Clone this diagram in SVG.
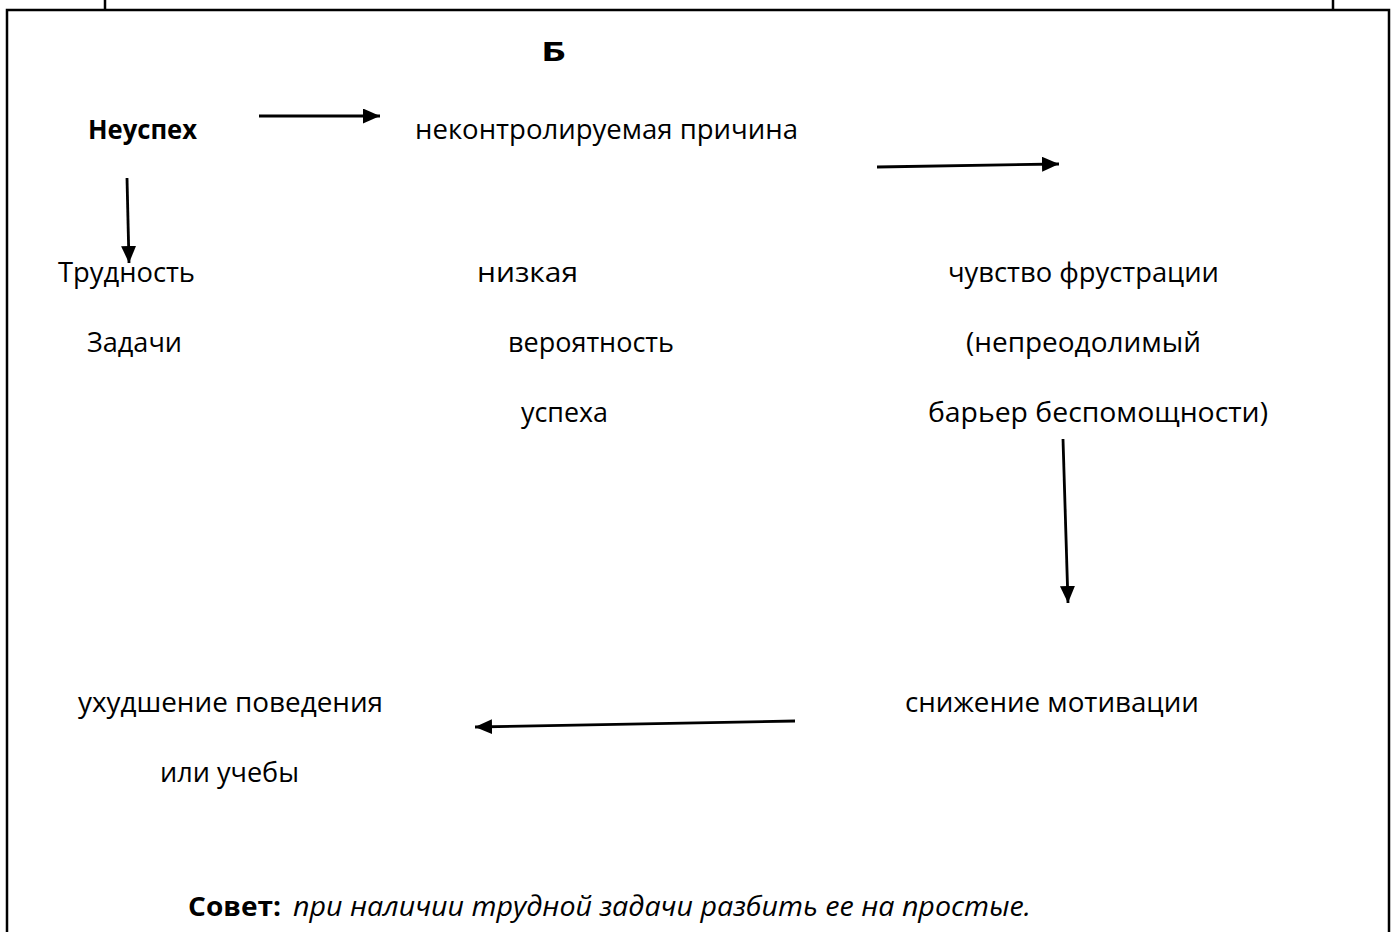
<svg xmlns="http://www.w3.org/2000/svg" width="1397" height="932" viewBox="0 0 1397 932">
<style>
.t{font-family:"Open Sans","Noto Sans","Liberation Sans",sans-serif;font-size:27px;fill:#000}
.b{font-weight:bold}
.i{font-style:italic}
.ln{stroke:#000;stroke-width:2.8;fill:none}
.frame{stroke:#000;stroke-width:2.5;fill:none}
</style>
<defs>
<marker id="ah" markerUnits="userSpaceOnUse" markerWidth="18" markerHeight="16" refX="17" refY="7.5" orient="auto" viewBox="0 0 18 16">
<path d="M0,0 L17,7.5 L0,15 Z" fill="#000"/>
</marker>
</defs>
<rect width="1397" height="932" fill="#fff"/>
<g id="frame">
<path class="frame" d="M7,932 V10 H1389 V932"/>
<line class="frame" x1="105" y1="0" x2="105" y2="10"/>
<line class="frame" x1="1333" y1="0" x2="1333" y2="10"/>
</g>
<g id="title"><text class="t b" x="541" y="61" font-size="31" textLength="25" lengthAdjust="spacingAndGlyphs">Б</text></g>
<g id="n-fail"><text class="t b" x="88" y="139" textLength="109" lengthAdjust="spacingAndGlyphs">Неуспех</text></g>
<g id="n-uncontrolled"><text class="t" x="415" y="139" textLength="383" lengthAdjust="spacingAndGlyphs">неконтролируемая причина</text></g>
<g id="n-difficulty">
<text class="t" x="58" y="282" textLength="137" lengthAdjust="spacingAndGlyphs">Трудность</text>
<text class="t" x="87" y="352" textLength="95" lengthAdjust="spacingAndGlyphs">Задачи</text>
</g>
<g id="n-low">
<text class="t" x="477" y="282" textLength="101" lengthAdjust="spacingAndGlyphs">низкая</text>
<text class="t" x="508" y="352" textLength="166" lengthAdjust="spacingAndGlyphs">вероятность</text>
<text class="t" x="521" y="422" textLength="87" lengthAdjust="spacingAndGlyphs">успеха</text>
</g>
<g id="n-frustration">
<text class="t" x="948" y="282" textLength="271" lengthAdjust="spacingAndGlyphs">чувство фрустрации</text>
<text class="t" x="966" y="352" textLength="235" lengthAdjust="spacingAndGlyphs">(непреодолимый</text>
<text class="t" x="928" y="422" textLength="340" lengthAdjust="spacingAndGlyphs">барьер беспомощности)</text>
</g>
<g id="n-motivation"><text class="t" x="905" y="712" textLength="294" lengthAdjust="spacingAndGlyphs">снижение мотивации</text></g>
<g id="n-behavior">
<text class="t" x="78" y="712" textLength="305" lengthAdjust="spacingAndGlyphs">ухудшение поведения</text>
<text class="t" x="160" y="782" textLength="139" lengthAdjust="spacingAndGlyphs">или учебы</text>
</g>
<g id="advice">
<text class="t b" x="188" y="916" textLength="93" lengthAdjust="spacingAndGlyphs">Совет:</text>
<text class="t i" x="293" y="916" textLength="738" lengthAdjust="spacingAndGlyphs">при наличии трудной задачи разбить ее на простые.</text>
</g>
<g id="connectors">
<line class="ln" x1="259" y1="116" x2="380" y2="116" marker-end="url(#ah)"/>
<line class="ln" x1="127" y1="178" x2="129" y2="263" marker-end="url(#ah)"/>
<line class="ln" x1="877" y1="167" x2="1059" y2="164" marker-end="url(#ah)"/>
<line class="ln" x1="1063" y1="439" x2="1068" y2="603" marker-end="url(#ah)"/>
<line class="ln" x1="795" y1="721" x2="475" y2="727" marker-end="url(#ah)"/>
</g>
</svg>
